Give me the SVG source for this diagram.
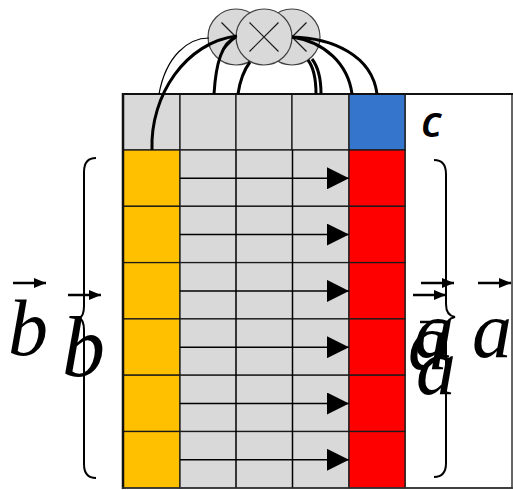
<svg xmlns="http://www.w3.org/2000/svg" width="513" height="490" viewBox="0 0 513 490">
<style>
.g{fill:#d9d9d9;stroke:#1a1a1a;stroke-width:1.3}
.y{fill:#ffc000;stroke:#1a1a1a;stroke-width:1.3}
.r{fill:#ff0000;stroke:#1a1a1a;stroke-width:1.3}
.b{fill:#3575cc;stroke:#1a1a1a;stroke-width:1.3}
.ln{stroke:#000;stroke-width:1.5;fill:none}
.circ{fill:#d9d9d9;stroke:#404040;stroke-width:1.2}
.x{stroke:#1a1a1a;stroke-width:1.2}
.thick{fill:none;stroke:#000;stroke-width:3}
.thin{fill:none;stroke:#000;stroke-width:1.2}
.brace{fill:none;stroke:#000;stroke-width:2}
.v{font-family:"Liberation Serif",serif;font-style:italic;fill:#000}
.va{stroke:#000;stroke-width:2.5}
</style>
<defs>
<marker id="ah" viewBox="0 0 10 10" refX="10" refY="5" markerWidth="22" markerHeight="22" markerUnits="userSpaceOnUse" orient="auto"><path d="M0 0 L10 5 L0 10 Z" fill="#000"/></marker>
<marker id="vh" viewBox="0 0 10 10" refX="10" refY="5" markerWidth="12" markerHeight="10" markerUnits="userSpaceOnUse" orient="auto" preserveAspectRatio="none"><path d="M0 0 L10 5 L0 10 Z" fill="#000"/></marker>
</defs>
<rect x="0" y="0" width="513" height="490" fill="#fff"/>
<g id="frame">
<rect x="405" y="94" width="107" height="394" fill="#fff" stroke="#333" stroke-width="1.5"/>
</g>
<g id="top-row">
<rect class="g" x="123" y="94" width="57" height="56"/>
<rect class="g" x="180" y="94" width="56" height="56"/>
<rect class="g" x="236" y="94" width="56" height="56"/>
<rect class="g" x="292" y="94" width="57" height="56"/>
<rect class="b" x="349" y="94" width="56" height="56"/>
</g>
<g id="rows">
<rect class="y" x="123" y="150" width="57" height="56.3"/><rect class="g" x="180" y="150" width="169" height="56.3"/><rect class="r" x="349" y="150" width="56" height="56.3"/>
<rect class="y" x="123" y="206.3" width="57" height="56.3"/><rect class="g" x="180" y="206.3" width="169" height="56.3"/><rect class="r" x="349" y="206.3" width="56" height="56.3"/>
<rect class="y" x="123" y="262.6" width="57" height="56.3"/><rect class="g" x="180" y="262.6" width="169" height="56.3"/><rect class="r" x="349" y="262.6" width="56" height="56.3"/>
<rect class="y" x="123" y="318.9" width="57" height="56.3"/><rect class="g" x="180" y="318.9" width="169" height="56.3"/><rect class="r" x="349" y="318.9" width="56" height="56.3"/>
<rect class="y" x="123" y="375.2" width="57" height="56.3"/><rect class="g" x="180" y="375.2" width="169" height="56.3"/><rect class="r" x="349" y="375.2" width="56" height="56.3"/>
<rect class="y" x="123" y="431.5" width="57" height="56.5"/><rect class="g" x="180" y="431.5" width="169" height="56.5"/><rect class="r" x="349" y="431.5" width="56" height="56.5"/>
<path class="ln" d="M236 150 V488 M292.5 150 V488" stroke="#222"/>
</g>
<g id="borders">
<path d="M123 93 V489" stroke="#111" stroke-width="2.5"/>
<path d="M122 94 H513" stroke="#111" stroke-width="2"/>
<path d="M122 488 H513" stroke="#333" stroke-width="1.5"/>
</g>
<g id="row-arrows">
<path class="ln" marker-end="url(#ah)" d="M180 178.3 H349"/>
<path class="ln" marker-end="url(#ah)" d="M180 234.6 H349"/>
<path class="ln" marker-end="url(#ah)" d="M180 290.9 H349"/>
<path class="ln" marker-end="url(#ah)" d="M180 347.2 H349"/>
<path class="ln" marker-end="url(#ah)" d="M180 403.5 H349"/>
<path class="ln" marker-end="url(#ah)" d="M180 459.8 H349"/>
</g>
<g id="circle-left">
<circle class="circ" cx="236" cy="37" r="28"/>
<path class="x" d="M221.5 22.5 L250.5 51.5 M250.5 22.5 L221.5 51.5"/>
</g>
<g id="circle-right">
<circle class="circ" cx="292" cy="37" r="28"/>
<path class="x" d="M277.5 22.5 L306.5 51.5 M306.5 22.5 L277.5 51.5"/>
</g>
<g id="circle-mid">
<circle class="circ" cx="264" cy="37" r="28"/>
<path class="x" d="M249.5 22.5 L278.5 51.5 M278.5 22.5 L249.5 51.5"/>
</g>
<g id="connectors">
<path class="thin" d="M159 94 C166 56 188 38 209 38"/>
<path class="thick" d="M152 150 C150 95 186 42 237 36"/>
<path class="thick" d="M214 94 C216 62 222 43 236 37"/>
<path class="thick" d="M238 94 C240 80 244 70 250 62"/>
<path class="thick" d="M316 94 C316 80 314 68 308 60"/>
<path class="thick" d="M321 94 C321 80 319 68 312 59"/>
<path class="thick" d="M352 94 C348 64 325 42 292 37"/>
<path class="thick" d="M377 94 C372 55 332 38 292 37"/>
</g>
<g id="label-c">
<text x="421" y="137" font-family="'Open Sans',sans-serif" font-style="italic" font-weight="600" font-size="44" fill="#000">c</text>
</g>
<g id="brace-left">
<path class="brace" d="M96 158 C88 158 84 163 84 172 L84 306 C84 313 82 317 79 318 C82 319 84 323 84 330 L84 464 C84 473 88 478 96 478"/>
</g>
<g id="brace-right">
<path class="brace" d="M434 160 C442 160 446 165 446 174 L446 304 C446 311 449 316 455 317 C449 318 446 323 446 330 L446 463 C446 472 442 477 434 477"/>
</g>
<g id="label-b1">
<path class="va" marker-end="url(#vh)" d="M13 283 H46"/>
<text class="v" x="8" y="355" font-size="80">b</text>
</g>
<g id="label-b2">
<path class="va" marker-end="url(#vh)" d="M68 295 H101"/>
<text class="v" x="62" y="376" font-size="86">b</text>
</g>
<g id="label-a1">
<path class="va" marker-end="url(#vh)" d="M421 283 H454"/>
<text class="v" x="414" y="357" font-size="80">a</text>
</g>
<g id="label-a2">
<path class="va" marker-end="url(#vh)" d="M413 295 H446"/>
<text class="v" x="408" y="369" font-size="80">a</text>
</g>
<g id="label-a3">
<path class="va" d="M420 322 H445"/>
<text class="v" x="416" y="394" font-size="80">a</text>
</g>
<g id="label-a4">
<path class="va" marker-end="url(#vh)" d="M478 283 H511"/>
<text class="v" x="472" y="357" font-size="80">a</text>
</g>
</svg>
